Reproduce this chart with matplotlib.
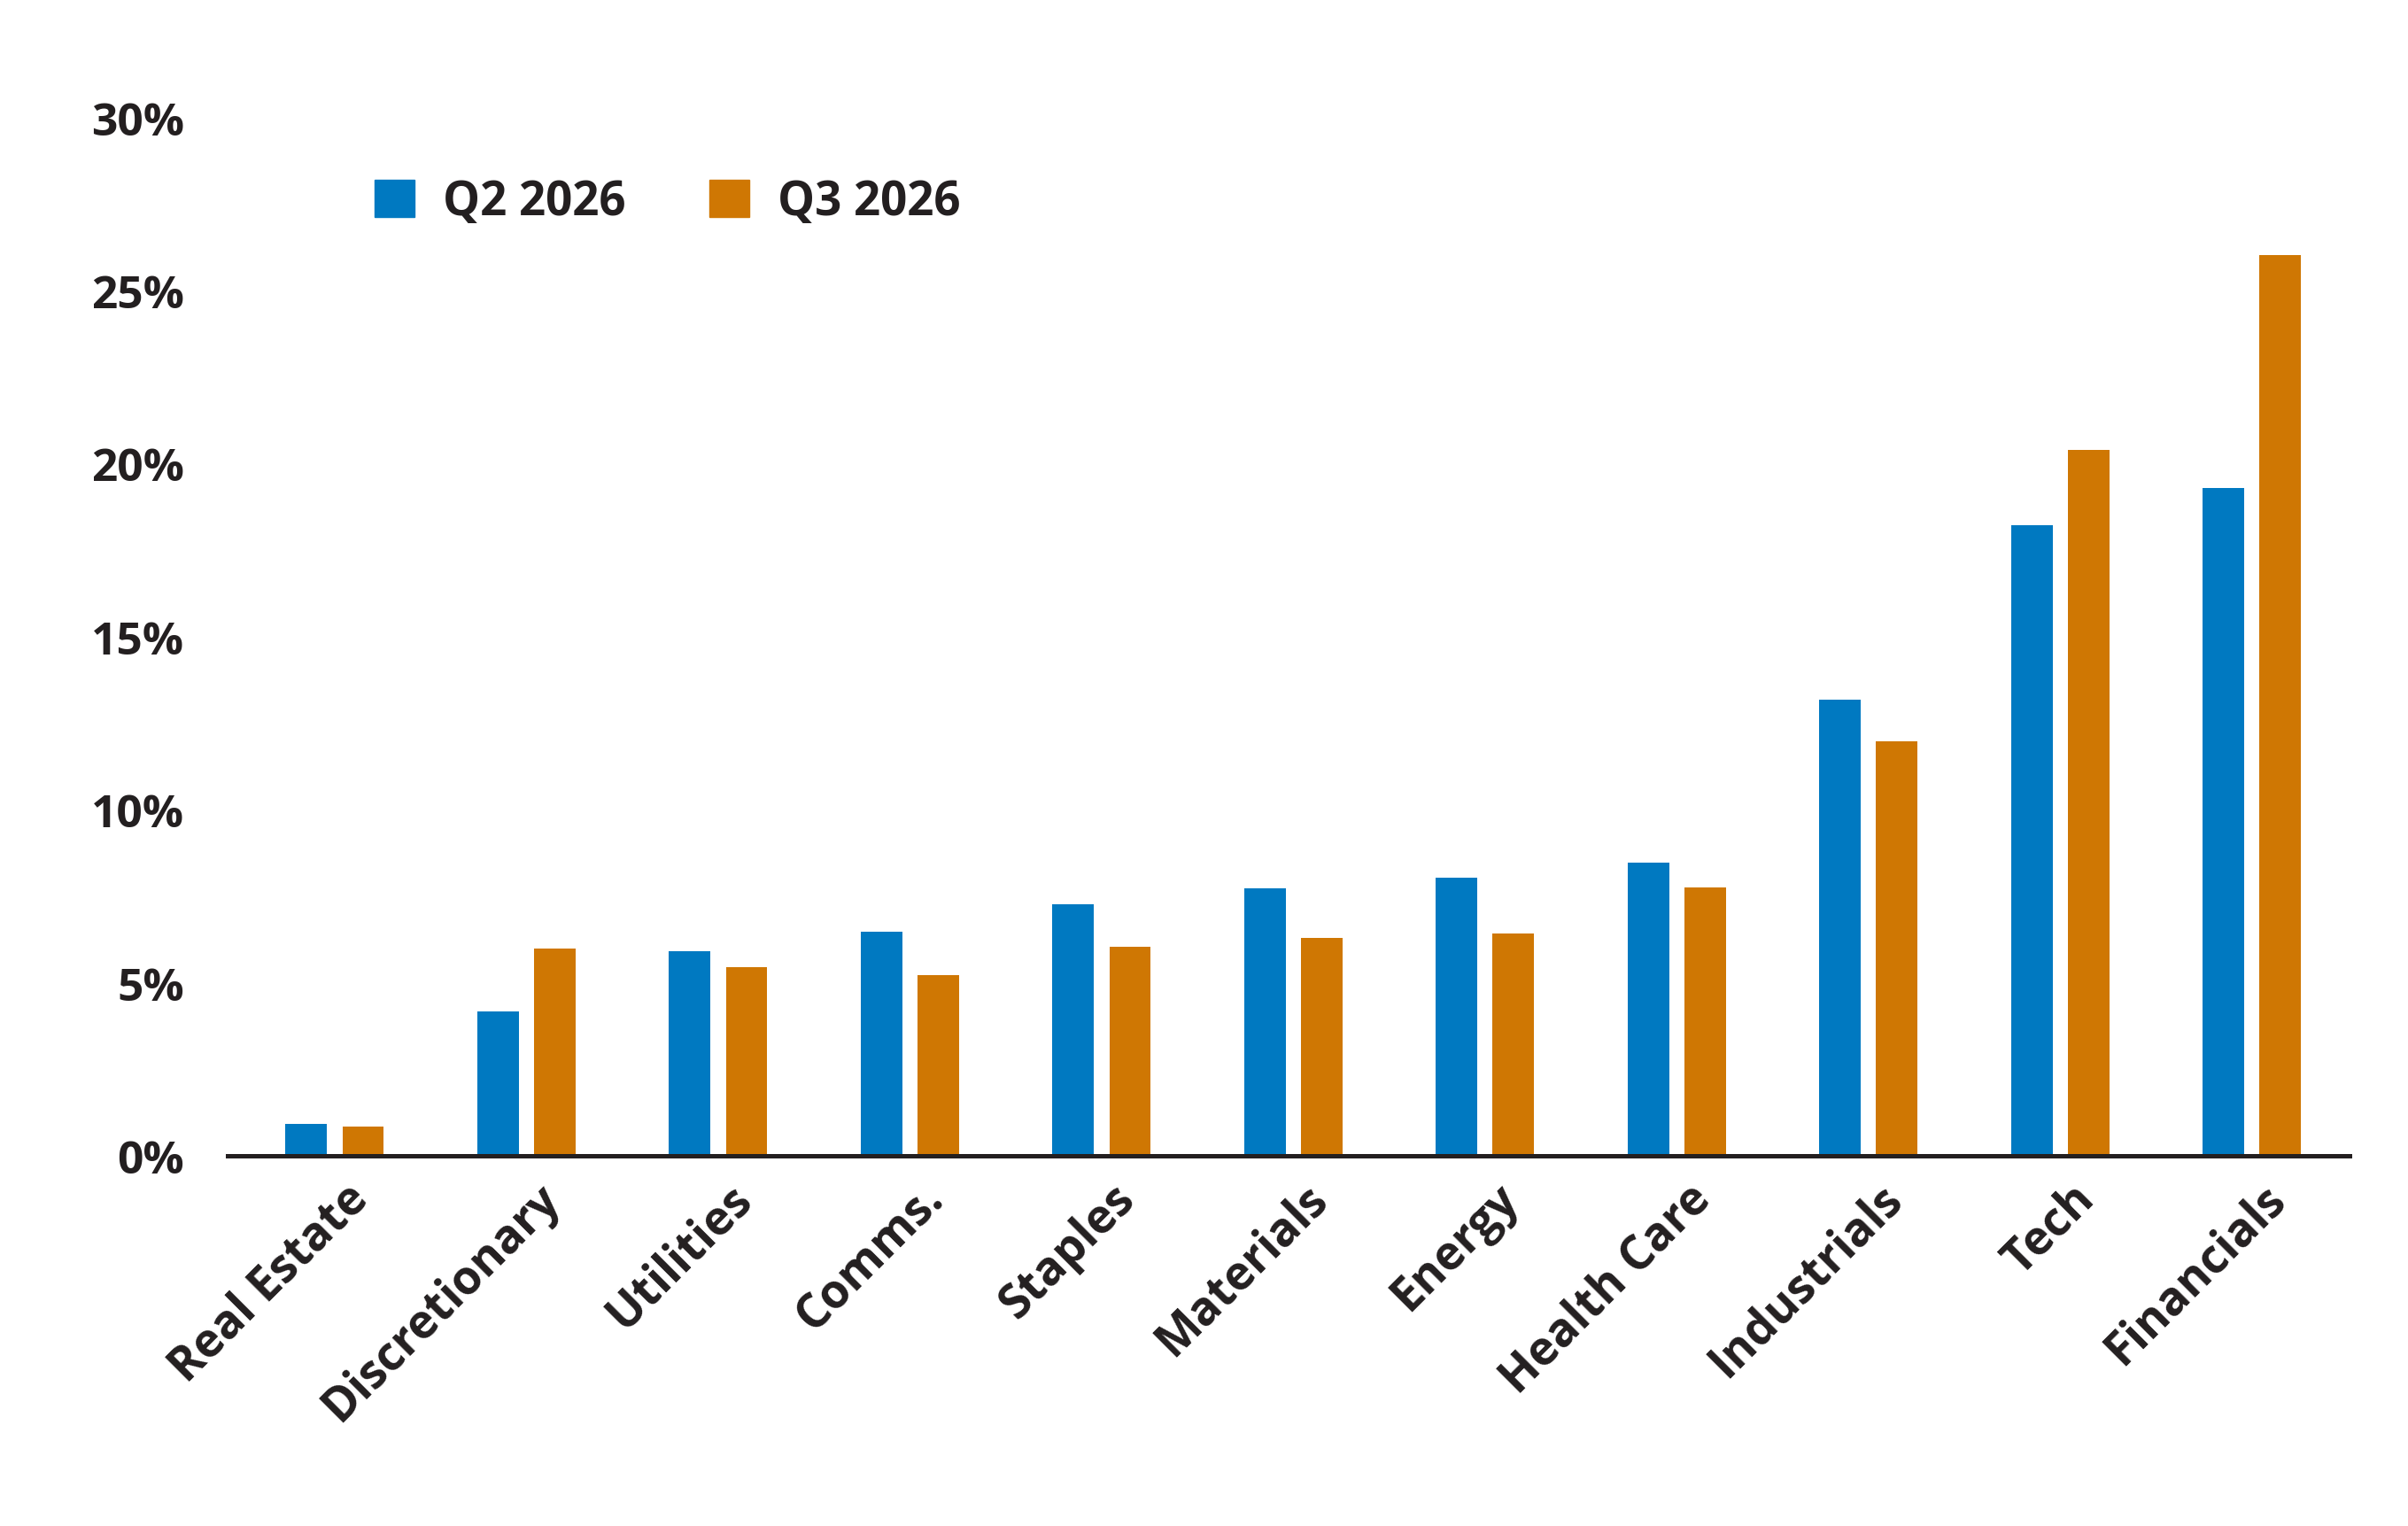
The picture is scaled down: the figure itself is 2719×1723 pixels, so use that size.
import matplotlib as mpl
mpl.use("Agg")
import matplotlib.pyplot as plt
from matplotlib.patches import Patch
from matplotlib.transforms import ScaledTranslation
import numpy as np

sectors = ["Real Estate", "Discretionary", "Utilities", "Comms.", "Staples",
           "Materials", "Energy", "Health Care", "Industrials", "Tech", "Financials"]
q2_2026 = [0.93, 4.17, 5.90, 6.47, 7.27, 7.72, 8.03, 8.47, 13.17, 18.23, 19.29]
q3_2026 = [0.84, 5.99, 5.45, 5.23, 6.03, 6.30, 6.43, 7.76, 11.97, 20.40, 26.03]
series_names = ["Q2 2026", "Q3 2026"]
yticks = [0, 5, 10, 15, 20, 25, 30]

blue = "#0079C1"
orange = "#CF7703"
ink = "#231F20"

plt.rcParams['font.family'] = ['Open Sans', 'DejaVu Sans']
plt.rcParams['font.weight'] = 'bold'

fig = plt.figure(figsize=(27.19, 17.24), dpi=100)
ax = fig.add_axes([0.0944, 0.2425, 0.8814, 0.68])

x = np.arange(len(sectors))
w = 0.216
off = 0.148
ax.bar(x - off, q2_2026, w, color=blue)
ax.bar(x + off, q3_2026, w, color=orange)

ax.set_xlim(-0.56, len(sectors) - 1 + 0.51)
ax.set_ylim(0, 30)
ax.set_yticks(yticks)
ax.set_yticklabels([f"{v}%" for v in yticks], fontsize=37, color=ink)

for s in ["top", "right", "left"]:
    ax.spines[s].set_visible(False)
ax.spines["bottom"].set_linewidth(3.6)
ax.spines["bottom"].set_color(ink)
ax.tick_params(axis="y", length=0, pad=35)
ax.tick_params(axis="x", length=0, pad=0)

ax.set_xticks(x)
labels = ax.set_xticklabels(sectors, fontsize=38, color=ink, rotation=45,
                            ha="right", va="center", rotation_mode="anchor")
shift = ScaledTranslation(0.30, -0.40, fig.dpi_scale_trans)
for lab in labels:
    lab.set_transform(lab.get_transform() + shift)

handles = [Patch(color=blue, label=series_names[0]),
           Patch(color=orange, label=series_names[1])]
ax.legend(handles=handles, loc="center left", bbox_to_anchor=(0.0695, 0.9186),
          frameon=False, ncol=2, fontsize=38, handlelength=0.85, handleheight=0.85,
          handletextpad=0.6, columnspacing=1.8, borderpad=0, borderaxespad=0,
          labelcolor=ink)

plt.savefig("out.png", dpi=100)
